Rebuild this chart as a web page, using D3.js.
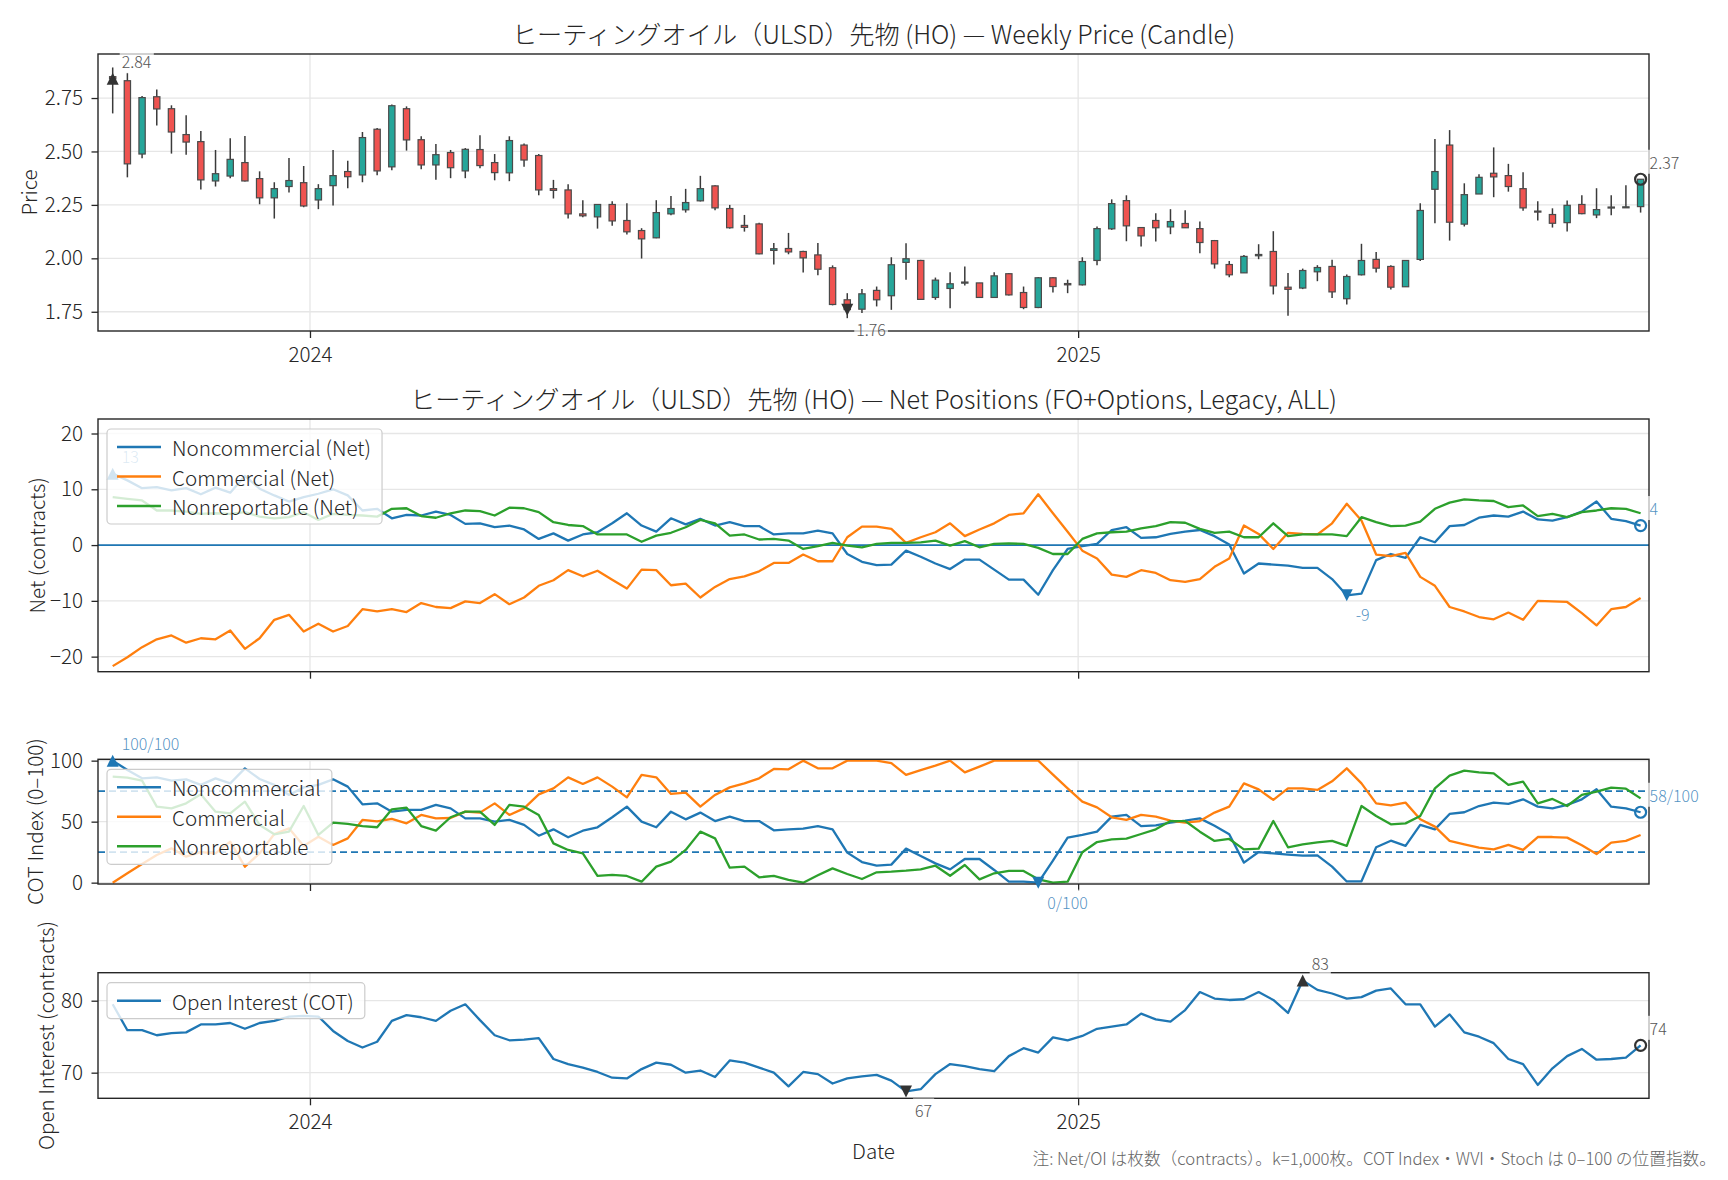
<!DOCTYPE html>
<html><head><meta charset="utf-8">
<script src="https://cdn.jsdelivr.net/npm/d3@7"></script>
<style>
body{margin:0;background:#fff}
svg{display:block}
text{font-family:"Noto Sans CJK JP","Noto Sans",sans-serif;font-weight:300}
</style>
</head><body>
<svg id="chart" width="1728" height="1180"></svg>
<script>
// ---------------- DATA ----------------
const startDate = "2023-09-29";   // first weekly observation (Friday)
const nWeeks = 105;
const priceOpen = [2.850,2.831,2.488,2.756,2.700,2.579,2.546,2.362,2.385,2.448,2.373,2.283,2.336,2.354,2.273,2.340,2.406,2.390,2.604,2.428,2.700,2.555,2.437,2.495,2.409,2.509,2.448,2.400,2.530,2.481,2.326,2.320,2.208,2.194,2.252,2.177,2.130,2.096,2.208,2.227,2.269,2.339,2.233,2.154,2.161,2.037,2.046,2.032,2.016,1.956,1.806,1.762,1.850,1.825,1.981,1.990,1.817,1.859,1.884,1.885,1.817,1.928,1.840,1.770,1.909,1.882,1.876,1.990,2.138,2.270,2.144,2.177,2.147,2.163,2.139,2.083,1.971,1.932,2.012,2.032,1.865,1.861,1.937,1.962,1.811,1.923,1.995,1.962,1.867,1.995,2.323,2.530,2.160,2.301,2.398,2.387,2.326,2.221,2.205,2.167,2.252,2.203,2.236,2.237,2.242];
const priceHigh = [2.893,2.868,2.759,2.790,2.716,2.669,2.596,2.507,2.562,2.572,2.407,2.356,2.470,2.432,2.347,2.507,2.456,2.591,2.610,2.720,2.711,2.571,2.535,2.507,2.516,2.576,2.488,2.571,2.537,2.488,2.367,2.347,2.272,2.252,2.267,2.258,2.141,2.272,2.292,2.325,2.386,2.342,2.250,2.203,2.167,2.072,2.119,2.035,2.072,1.967,1.837,1.856,1.868,2.005,2.071,1.993,1.910,1.935,1.962,1.885,1.935,1.931,1.868,1.912,1.912,1.900,2.005,2.149,2.276,2.295,2.144,2.211,2.230,2.225,2.172,2.086,1.987,2.016,2.066,2.127,1.931,1.952,1.968,1.993,1.924,2.068,2.030,1.968,1.990,2.258,2.558,2.600,2.351,2.393,2.519,2.442,2.403,2.267,2.234,2.270,2.295,2.328,2.295,2.342,2.370];
const priceLow = [2.678,2.379,2.468,2.621,2.490,2.485,2.322,2.336,2.375,2.359,2.253,2.186,2.308,2.239,2.230,2.247,2.328,2.356,2.389,2.412,2.504,2.417,2.368,2.375,2.375,2.421,2.365,2.361,2.429,2.295,2.280,2.186,2.192,2.139,2.153,2.111,1.999,2.094,2.202,2.214,2.266,2.225,2.139,2.125,2.019,1.971,2.019,1.934,1.921,1.780,1.720,1.744,1.775,1.759,1.900,1.806,1.806,1.767,1.873,1.817,1.814,1.826,1.762,1.767,1.840,1.837,1.873,1.968,2.133,2.080,2.055,2.079,2.113,2.143,2.024,1.952,1.912,1.932,1.996,1.831,1.731,1.856,1.893,1.814,1.784,1.920,1.934,1.854,1.867,1.988,2.164,2.083,2.149,2.301,2.286,2.312,2.223,2.177,2.144,2.125,2.206,2.188,2.202,2.237,2.214];
const priceClose = [2.840,2.442,2.752,2.699,2.591,2.544,2.367,2.396,2.463,2.362,2.283,2.326,2.364,2.245,2.326,2.387,2.382,2.565,2.409,2.714,2.554,2.437,2.485,2.424,2.510,2.434,2.401,2.551,2.460,2.320,2.318,2.208,2.199,2.252,2.175,2.124,2.091,2.214,2.233,2.261,2.326,2.236,2.143,2.145,2.021,2.045,2.030,2.002,1.949,1.784,1.760,1.834,1.806,1.970,1.998,1.808,1.898,1.881,1.889,1.817,1.918,1.829,1.770,1.909,1.868,1.876,1.985,2.139,2.256,2.152,2.105,2.143,2.172,2.143,2.074,1.974,1.923,2.009,2.018,1.871,1.855,1.943,1.957,1.843,1.915,1.990,1.954,1.865,1.990,2.224,2.406,2.169,2.298,2.379,2.381,2.336,2.236,2.217,2.164,2.248,2.209,2.228,2.240,2.241,2.370];

// Net positions (thousand contracts)
const netNoncommercial = [12.8,11.6,10.2,10.4,9.8,10.2,9.1,10.3,9.4,12.4,10.1,8.9,7.8,8.6,9.2,10.0,8.9,6.2,6.5,4.8,5.4,5.3,6.0,5.4,3.8,3.9,3.2,3.5,2.8,1.1,2.1,0.8,1.9,2.3,3.9,5.7,3.5,2.4,4.8,3.7,4.7,3.5,4.1,3.4,3.4,1.9,2.1,2.1,2.6,2.1,-1.6,-3.0,-3.6,-3.5,-1.0,-2.1,-3.3,-4.3,-2.6,-2.6,-4.4,-6.2,-6.2,-8.9,-4.5,-0.7,-0.2,0.2,2.7,3.2,1.3,1.4,2.0,2.4,2.7,1.6,0.1,-5.1,-3.3,-3.5,-3.7,-4.1,-4.1,-6.1,-9.0,-8.7,-2.7,-1.6,-2.3,1.4,0.5,3.4,3.6,4.9,5.3,5.1,6.0,4.6,4.4,5.0,6.0,7.8,4.7,4.3,3.5];
const netCommercial = [-21.7,-20.1,-18.3,-16.9,-16.2,-17.5,-16.7,-16.9,-15.3,-18.6,-16.7,-13.4,-12.5,-15.5,-14.1,-15.5,-14.5,-11.5,-11.9,-11.5,-12.0,-10.4,-11.1,-11.3,-10.1,-10.4,-8.8,-10.6,-9.4,-7.3,-6.3,-4.5,-5.6,-4.6,-6.2,-7.8,-4.4,-4.5,-7.2,-6.9,-9.4,-7.5,-6.1,-5.6,-4.7,-3.2,-3.2,-1.7,-2.9,-2.9,1.4,3.3,3.3,2.9,0.4,1.4,2.3,3.9,1.6,2.8,3.9,5.4,5.7,9.1,5.7,2.4,-1.0,-2.4,-5.3,-5.7,-4.5,-5.0,-6.3,-6.6,-6.1,-3.9,-2.4,3.5,2.0,-0.7,2.2,2.0,1.9,3.9,7.4,4.4,-1.7,-2.0,-1.4,-5.7,-7.3,-11.1,-11.9,-12.9,-13.3,-12.1,-13.4,-10.0,-10.1,-10.2,-12.2,-14.4,-11.5,-11.1,-9.5];
const netNonreportable = [8.6,8.3,8.0,6.2,6.2,6.0,5.6,5.7,5.6,5.9,5.1,4.8,5.0,5.9,4.5,5.6,5.4,5.3,5.1,6.5,6.6,5.2,4.9,5.7,6.2,6.1,5.3,6.7,6.6,5.9,4.1,3.6,3.4,1.9,1.9,1.9,0.6,1.7,2.2,3.2,4.5,3.9,1.7,1.9,1.0,1.1,0.8,-0.7,-0.2,0.4,-0.1,-0.4,0.2,0.4,0.4,0.5,0.8,-0.1,0.7,-0.4,0.2,0.3,0.2,-0.5,-1.6,-1.6,1.1,2.1,2.3,2.4,3.0,3.4,4.1,4.0,2.9,2.2,2.4,1.4,1.4,3.9,1.6,1.9,1.9,1.9,1.6,5.0,4.1,3.4,3.5,4.2,6.5,7.6,8.2,8.0,7.9,6.8,7.1,5.2,5.6,5.0,5.9,6.2,6.6,6.5,5.7];

// COT Index (0-100)
const cotNoncommercial = [100,92.3,85.5,86.3,83.6,84.7,80.1,85.5,81.4,93.7,85.0,80.1,71.9,78.1,80.1,84.7,78.7,64.2,65.0,58.2,59.6,59.6,63.7,60.9,52.7,52.7,50.0,51.4,47.3,38.5,43.7,37.2,42.6,45.4,53.6,62.3,50.0,45.4,58.2,51.9,57.4,50.5,54.1,50.5,50.5,42.9,43.7,44.3,46.4,43.7,24.6,16.9,13.9,14.8,27.9,21.9,15.8,10.9,19.4,19.4,10.4,0.8,0.8,0,18.0,36.9,39.1,41.8,54.1,55.5,46.4,47.0,49.2,50.8,52.7,46.7,39.6,16.4,25.1,24.0,23.0,22.1,22.4,13.1,1.0,1.1,29.0,34.4,30.1,47.3,43.7,56.3,57.7,62.8,65.6,64.5,68.3,62.3,60.9,63.7,68.3,76.5,62.3,60.9,57.7];
const cotCommercial = [0,7.7,15.3,22.7,28.1,21.3,25.1,24.0,33.6,13.1,24.0,39.9,44.5,30.1,37.7,30.9,36.3,51.4,50.3,52.2,48.6,55.5,52.7,53.0,58.2,57.4,65.0,55.5,60.9,72.4,77.3,86.3,80.9,86.3,78.7,69.9,88.3,86.3,72.7,73.8,62.3,71.9,78.1,81.4,85.5,93.2,92.9,100,93.7,93.7,100,100,100,98.0,88.3,92.3,95.9,100,90.4,95.1,100,100,100,100,88.5,77.3,66.4,61.7,53.6,51.4,55.5,54.1,50.8,49.2,50.5,57.4,62.3,81.4,76.5,67.8,77.3,77.3,76.0,83.1,93.7,81.4,65.0,63.4,65.6,51.9,45.9,34.2,31.4,28.7,27.3,30.9,26.8,37.4,37.4,36.9,30.6,23.5,32.8,34.2,39.1];
const cotNonreportable = [86.9,86.1,83.6,62.3,60.9,65.0,72.4,58.2,56.8,66.4,47.3,39.6,41.8,62.8,39.1,49.2,48.1,46.4,45.4,60.1,61.5,46.4,42.6,53.6,58.2,58.2,47.3,63.7,62.3,55.5,32.2,26.8,24.0,5.5,6.3,5.5,0.8,13.1,17.2,26.8,41.8,36.3,12.3,13.1,4.4,5.5,2.2,0,6.0,11.7,7.1,3.0,8.5,9.0,9.8,10.9,13.9,5.7,14.5,2.7,7.7,9.6,9.6,2.7,0,0.8,24.9,33.3,35.5,36.1,39.9,43.7,50.5,50.5,41.8,34.2,35.8,27.3,27.9,50.5,29.0,31.4,33.1,34.2,30.1,62.8,54.6,47.8,48.6,54.6,77.3,87.7,91.8,90.4,89.6,80.1,82.8,65.0,68.6,62.8,71.9,74.6,77.9,77.0,69.1];

// Open interest (thousand contracts)
const openInterest = [79.5,75.9,75.9,75.2,75.5,75.6,76.7,76.7,76.9,76.1,76.9,77.2,77.8,77.9,77.8,75.8,74.4,73.5,74.3,77.2,78.0,77.7,77.2,78.6,79.5,77.3,75.2,74.5,74.6,74.8,71.9,71.2,70.7,70.1,69.3,69.2,70.5,71.4,71.1,70.0,70.3,69.4,71.7,71.4,70.7,70.0,68.1,70.1,69.8,68.5,69.2,69.5,69.7,68.9,67.4,67.7,69.8,71.2,70.9,70.5,70.2,72.3,73.4,72.8,74.9,74.5,75.1,76.1,76.4,76.7,78.2,77.4,77.1,78.7,81.2,80.3,80.1,80.2,81.2,80.1,78.3,82.8,81.5,81.0,80.3,80.5,81.4,81.7,79.5,79.5,76.4,78.1,75.6,75.0,74.1,71.9,71.2,68.3,70.6,72.3,73.3,71.8,71.9,72.1,73.8];

const xTickDates = ["2024-01-01","2025-01-01"];
const priceTicks = [1.75,2.00,2.25,2.50,2.75];
const netTicks = [-20,-10,0,10,20];
const cotTicks = [0,50,100];
const oiTicks = [70,80];
const cotBands = [25,75];

const titlePrice = "ヒーティングオイル（ULSD）先物 (HO) — Weekly Price (Candle)";
const titleNet = "ヒーティングオイル（ULSD）先物 (HO) — Net Positions (FO+Options, Legacy, ALL)";
const footnote = "注: Net/OI は枚数（contracts）。k=1,000枚。COT Index・WVI・Stoch は 0–100 の位置指数。";

// ---------------- LAYOUT ----------------
const C0="#1f77b4", C1="#ff7f0e", C2="#2ca02c";
const UP="#26a69a", DN="#ef5350";
const FS=20.6, FS_TITLE=25.2, FS_SMALL=16, FS_NOTE=16.7;
const L=98, R=1649;
const P1={top:54,bottom:331}, P2={top:419,bottom:671.7}, P3={top:759.3,bottom:884}, P4={top:972.7,bottom:1098.3};

const svg = d3.select("#chart");
const dates = d3.range(nWeeks).map(i => d3.utcDay.offset(d3.isoParse(startDate), 7*i));
const x = d3.scaleUtc().domain([d3.isoParse("2023-09-22"), d3.isoParse("2025-09-30")]).range([L,R]);
const xTicks = xTickDates.map(d3.isoParse);

const yP = d3.scaleLinear().domain([1.660,2.956]).range([P1.bottom,P1.top]);
const yN = d3.scaleLinear().domain([-22.7,22.6]).range([P2.bottom,P2.top]);
const yC = d3.scaleLinear().domain([-1.1,101.1]).range([P3.bottom,P3.top]);
const yO = d3.scaleLinear().domain([66.44,83.89]).range([P4.bottom,P4.top]);

function panel(P, y, ticks, fmt, showX){
  const g = svg.append("g");
  g.append("g").selectAll("line").data(ticks).join("line")
    .attr("x1",L).attr("x2",R).attr("y1",d=>y(d)).attr("y2",d=>y(d))
    .attr("stroke","#e6e6e6").attr("stroke-width",1.3);
  g.append("g").selectAll("line").data(xTicks).join("line")
    .attr("x1",d=>x(d)).attr("x2",d=>x(d)).attr("y1",P.top).attr("y2",P.bottom)
    .attr("stroke","#e6e6e6").attr("stroke-width",1.3);
  const content = g.append("g");
  const over = g.append("g");
  const ya = over.append("g").attr("transform",`translate(${L},0)`)
    .call(d3.axisLeft(y).tickValues(ticks).tickFormat(fmt).tickSize(6.5).tickPadding(8.5).tickSizeOuter(0));
  const xa = over.append("g").attr("transform",`translate(0,${P.bottom})`)
    .call(d3.axisBottom(x).tickValues(xTicks).tickFormat(showX?d3.utcFormat("%Y"):"").tickSize(7).tickPadding(9.5).tickSizeOuter(0));
  [ya,xa].forEach(a=>{
    a.select(".domain").remove();
    a.selectAll(".tick line").attr("stroke","#262626").attr("stroke-width",1.3);
    a.selectAll(".tick text").attr("fill","#262626").style("font-size",FS+"px").attr("font-family",null);
  });
  over.append("rect").attr("x",L).attr("y",P.top).attr("width",R-L).attr("height",P.bottom-P.top)
    .attr("fill","none").attr("stroke","#262626").attr("stroke-width",1.4);
  const top = g.append("g");
  return {content, top};
}

function yLabel(txt, cx, P){
  svg.append("text").attr("transform",`translate(${cx},${(P.top+P.bottom)/2}) rotate(-90)`)
    .attr("text-anchor","middle").attr("dominant-baseline","central")
    .style("font-size",FS+"px").attr("fill","#262626").text(txt);
}

function marker(g, type, cx, cy, color){
  if(type==="circle"){
    g.append("circle").attr("cx",cx).attr("cy",cy).attr("r",5.5)
      .attr("fill","none").attr("stroke",color).attr("stroke-width",2.2);
  } else {
    const s = type==="up" ? 1 : -1;
    g.append("path").attr("transform",`translate(${cx},${cy})`)
      .attr("d",`M0,${-6*s}L6,${6*s}L-6,${6*s}Z`).attr("fill",color);
  }
}
function label(g, cx, cy, txt, color, below){
  const t = g.append("text").attr("x",cx+9).attr("y",cy+(below?19:-17.5))
    .attr("dominant-baseline","central").style("font-size",FS_SMALL+"px")
    .attr("fill",color).text(txt);
  const b = t.node().getBBox();
  g.insert("rect", () => t.node()).attr("x",b.x-2).attr("y",b.y).attr("width",b.width+4).attr("height",b.height)
    .attr("fill","#fff").attr("fill-opacity",0.7);
}

function legend(g, P, items){
  const lg = g.append("g");
  const boxX = L+9, boxY = P.top+10, row=29.5;
  const rect = lg.append("rect");
  let maxW = 0;
  items.forEach((it,i)=>{
    const yy = boxY+18+i*row;
    lg.append("line").attr("x1",boxX+10).attr("x2",boxX+54).attr("y1",yy).attr("y2",yy)
      .attr("stroke",it.color).attr("stroke-width",2.6);
    const t = lg.append("text").attr("x",boxX+65).attr("y",yy).attr("dominant-baseline","central")
      .style("font-size",FS+"px").attr("fill","#262626").text(it.name);
    maxW = Math.max(maxW, t.node().getComputedTextLength());
  });
  rect.attr("x",boxX).attr("y",boxY).attr("width",65+maxW+11).attr("height",36+row*(items.length-1))
    .attr("rx",4).attr("fill","#fff").attr("fill-opacity",0.8).attr("stroke","#cccccc").attr("stroke-width",1.2);
}

// ---------------- PANEL 1: candles ----------------
svg.append("text").attr("x",(L+R)/2).attr("y",33).attr("text-anchor","middle").attr("dominant-baseline","central")
  .style("font-size",FS_TITLE+"px").attr("fill","#262626").text(titlePrice);
const p1 = panel(P1, yP, priceTicks, d3.format(".2f"), true);
const halfW = d => (x(d3.utcHour.offset(d,36)) - x(d3.utcHour.offset(d,-36)))/2;
dates.forEach((d,i)=>{
  const o=priceOpen[i], c=priceClose[i];
  p1.content.append("line").attr("x1",x(d)).attr("x2",x(d)).attr("y1",yP(priceHigh[i])).attr("y2",yP(priceLow[i]))
    .attr("stroke","#3a3a3a").attr("stroke-width",1.5);
  const yt = yP(Math.max(o,c)), yb = yP(Math.min(o,c));
  p1.content.append("rect").attr("x",x(d)-halfW(d)).attr("width",2*halfW(d))
    .attr("y",yt).attr("height",Math.max(yb-yt,1))
    .attr("fill", c>=o?UP:DN).attr("stroke","#4a4a4a").attr("stroke-width",1.2);
});
{
  const iMax=d3.maxIndex(priceClose), iMin=d3.minIndex(priceClose), iL=nWeeks-1;
  marker(p1.top,"up",x(dates[iMax]),yP(priceClose[iMax]),"#333");
  label(p1.top,x(dates[iMax]),yP(priceClose[iMax]),priceClose[iMax].toFixed(2),"#555",false);
  marker(p1.top,"down",x(dates[iMin]),yP(priceClose[iMin]),"#333");
  label(p1.top,x(dates[iMin]),yP(priceClose[iMin]),priceClose[iMin].toFixed(2),"#555",true);
  marker(p1.top,"circle",x(dates[iL]),yP(priceClose[iL]),"#333");
  label(p1.top,x(dates[iL]),yP(priceClose[iL]),priceClose[iL].toFixed(2),"#555",false);
}
yLabel("Price", 28, P1);

// ---------------- PANEL 2: net positions ----------------
svg.append("text").attr("x",(L+R)/2).attr("y",398).attr("text-anchor","middle").attr("dominant-baseline","central")
  .style("font-size",FS_TITLE+"px").attr("fill","#262626").text(titleNet);
const p2 = panel(P2, yN, netTicks, d3.format("d"), false);
p2.content.append("line").attr("x1",L).attr("x2",R).attr("y1",yN(0)).attr("y2",yN(0)).attr("stroke",C0).attr("stroke-width",1.7);
const series2 = [
  {name:"Noncommercial (Net)", v:netNoncommercial, color:C0},
  {name:"Commercial (Net)", v:netCommercial, color:C1},
  {name:"Nonreportable (Net)", v:netNonreportable, color:C2}];
series2.forEach(s=>{
  p2.content.append("path").attr("d", d3.line().x((_,i)=>x(dates[i])).y(v=>yN(v))(s.v))
    .attr("fill","none").attr("stroke",s.color).attr("stroke-width",2.3).attr("stroke-linejoin","round");
});
{
  const v=netNoncommercial, iMax=d3.maxIndex(v), iMin=d3.minIndex(v), iL=nWeeks-1, lc="rgba(31,119,180,0.8)";
  marker(p2.top,"up",x(dates[iMax]),yN(v[iMax]),C0); label(p2.top,x(dates[iMax]),yN(v[iMax]),String(Math.round(v[iMax])),lc,false);
  marker(p2.top,"down",x(dates[iMin]),yN(v[iMin]),C0); label(p2.top,x(dates[iMin]),yN(v[iMin]),String(Math.round(v[iMin])),lc,true);
  marker(p2.top,"circle",x(dates[iL]),yN(v[iL]),C0); label(p2.top,x(dates[iL]),yN(v[iL]),String(Math.round(v[iL])),lc,false);
}
legend(p2.top, P2, series2);
yLabel("Net (contracts)", 36, P2);

// ---------------- PANEL 3: COT index ----------------
const p3 = panel(P3, yC, cotTicks, d3.format("d"), false);
cotBands.forEach(b=>{
  p3.content.append("line").attr("x1",L).attr("x2",R).attr("y1",yC(b)).attr("y2",yC(b))
    .attr("stroke",C0).attr("stroke-width",1.7).attr("stroke-dasharray","7,4");
});
const series3 = [
  {name:"Noncommercial", v:cotNoncommercial, color:C0},
  {name:"Commercial", v:cotCommercial, color:C1},
  {name:"Nonreportable", v:cotNonreportable, color:C2}];
series3.forEach(s=>{
  p3.content.append("path").attr("d", d3.line().x((_,i)=>x(dates[i])).y(v=>yC(v))(s.v))
    .attr("fill","none").attr("stroke",s.color).attr("stroke-width",2.3).attr("stroke-linejoin","round");
});
{
  const v=cotNoncommercial, iMax=d3.maxIndex(v), iMin=d3.minIndex(v), iL=nWeeks-1, lc="rgba(31,119,180,0.8)";
  marker(p3.top,"up",x(dates[iMax]),yC(v[iMax]),C0); label(p3.top,x(dates[iMax]),yC(v[iMax]),Math.round(v[iMax])+"/100",lc,false);
  marker(p3.top,"down",x(dates[iMin]),yC(v[iMin]),C0); label(p3.top,x(dates[iMin]),yC(v[iMin]),Math.round(v[iMin])+"/100",lc,true);
  marker(p3.top,"circle",x(dates[iL]),yC(v[iL]),C0); label(p3.top,x(dates[iL]),yC(v[iL]),Math.round(v[iL])+"/100",lc,false);
}
legend(p3.top, P3, series3);
yLabel("COT Index (0–100)", 33.5, P3);

// ---------------- PANEL 4: open interest ----------------
const p4 = panel(P4, yO, oiTicks, d3.format("d"), true);
p4.content.append("path").attr("d", d3.line().x((_,i)=>x(dates[i])).y(v=>yO(v))(openInterest))
  .attr("fill","none").attr("stroke",C0).attr("stroke-width",2.3).attr("stroke-linejoin","round");
{
  const v=openInterest, iMax=d3.maxIndex(v), iMin=d3.minIndex(v), iL=nWeeks-1;
  marker(p4.top,"up",x(dates[iMax]),yO(v[iMax]),"#333"); label(p4.top,x(dates[iMax]),yO(v[iMax]),String(Math.round(v[iMax])),"#555",false);
  marker(p4.top,"down",x(dates[iMin]),yO(v[iMin]),"#333"); label(p4.top,x(dates[iMin]),yO(v[iMin]),String(Math.round(v[iMin])),"#555",true);
  marker(p4.top,"circle",x(dates[iL]),yO(v[iL]),"#333"); label(p4.top,x(dates[iL]),yO(v[iL]),String(Math.round(v[iL])),"#555",false);
}
legend(p4.top, P4, [{name:"Open Interest (COT)", color:C0}]);
yLabel("Open Interest (contracts)", 45, P4);

svg.append("text").attr("x",(L+R)/2).attr("y",1149.5).attr("text-anchor","middle").attr("dominant-baseline","central")
  .style("font-size",FS+"px").attr("fill","#262626").text("Date");
svg.append("text").attr("x",1716).attr("y",1158).attr("text-anchor","end").attr("dominant-baseline","central")
  .style("font-size",FS_NOTE+"px").attr("fill","#666").text(footnote);
</script>
</body></html>
